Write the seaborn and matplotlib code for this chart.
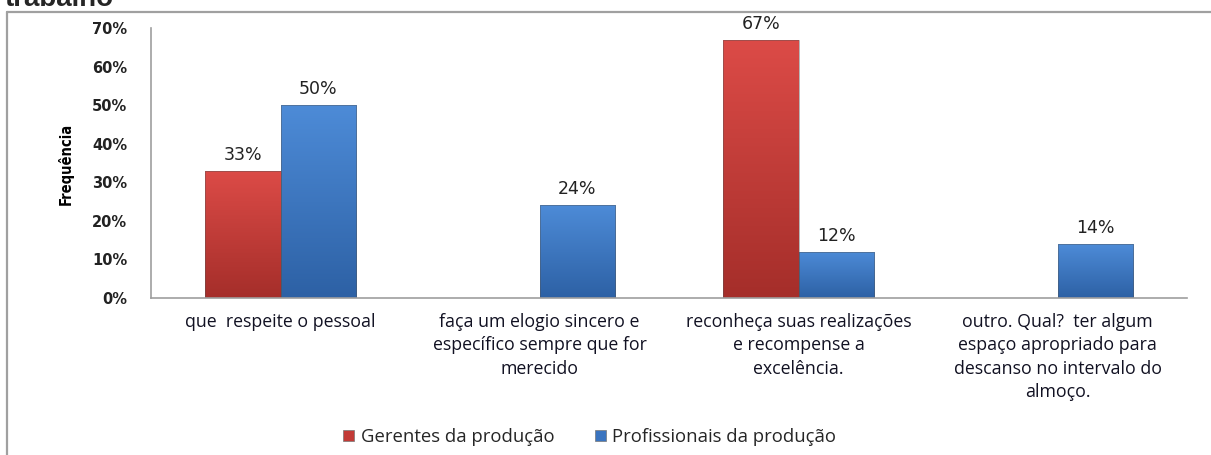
import numpy as np
import pandas as pd
import seaborn as sns
import matplotlib.pyplot as plt
from matplotlib.lines import Line2D
from matplotlib.patches import Rectangle
from matplotlib.colors import LinearSegmentedColormap

# dados do grafico
categorias = ['que  respeite o pessoal',
              'faça um elogio sincero e\nespecífico sempre que for\nmerecido',
              'reconheça suas realizações\ne recompense a\nexcelência.',
              'outro. Qual?  ter algum\nespaço apropriado para\ndescanso no intervalo do\nalmoço.']
grupos = ['Gerentes da produção', 'Profissionais da produção']
gerentes = [0.33, 0.0, 0.67, 0.0]
profissionais = [0.50, 0.24, 0.12, 0.14]
y_ticks = [0.0, 0.1, 0.2, 0.3, 0.4, 0.5, 0.6, 0.7]

cores = {'Gerentes da produção': '#C23A36', 'Profissionais da produção': '#3A74BF'}
gradientes = {'Gerentes da produção': ('#DC4B47', '#A52E2A'),
              'Profissionais da produção': ('#4D8BD7', '#2D61A5')}

df = pd.DataFrame({
    'categoria': categorias * 2,
    'grupo': [grupos[0]] * 4 + [grupos[1]] * 4,
    'valor': gerentes + profissionais,
})

sns.set_style('white')
plt.rcParams['font.family'] = ['DejaVu Sans']

fig = plt.figure(figsize=(12.11, 4.55), dpi=100)
ax = fig.add_axes([151 / 1211, 1 - 298 / 455, (1187 - 151) / 1211, (298 - 28) / 455])

sns.barplot(data=df, x='categoria', y='valor', hue='grupo', order=categorias,
            hue_order=grupos, palette=cores, width=0.58, gap=0, ax=ax,
            edgecolor='none', legend=False, errorbar=None)

ax.set_xlim(-0.5, 3.5)
ax.set_ylim(0, 0.7)

# gradiente nas barras + rotulos
for cont, grupo in zip(ax.containers, grupos):
    cmap = LinearSegmentedColormap.from_list(grupo, [gradientes[grupo][1], gradientes[grupo][0]])
    for bar in cont:
        h = bar.get_height()
        if h <= 0:
            bar.set_visible(False)
            continue
        x0, w = bar.get_x(), bar.get_width()
        grad = np.linspace(0, 1, 100).reshape(-1, 1)
        im = ax.imshow(grad, extent=[x0, x0 + w, 0, h], origin='lower', cmap=cmap,
                       aspect='auto', zorder=bar.get_zorder() + 0.1)
        im.set_clip_path(bar)
        ax.add_patch(Rectangle((x0, 0), w, h, fill=False, edgecolor='#555555',
                               linewidth=0.6, alpha=0.5, zorder=bar.get_zorder() + 0.2))
        ax.annotate(f'{h:.0%}', (x0 + w / 2, h), xytext=(0, 5), textcoords='offset points',
                    ha='center', va='bottom', fontsize=12.5, color='#222222')

ax.set_xlim(-0.5, 3.5)
ax.set_ylim(0, 0.7)

ax.set_yticks(y_ticks)
ax.set_yticklabels([f'{t:.0%}' for t in y_ticks], fontsize=10.5, fontweight='bold', color='#222222')
ax.tick_params(axis='y', length=0, pad=17)
ax.tick_params(axis='x', length=0, pad=11)
ax.set_xticks(range(4))
ax.set_xticklabels(categorias, fontsize=12.8, color='#111122', linespacing=1.37,
                   family=['Open Sans', 'DejaVu Sans'])
ax.set_xlabel('')
ax.set_ylabel('')

for s in ['top', 'right']:
    ax.spines[s].set_visible(False)
for s in ['left', 'bottom']:
    ax.spines[s].set_color('#9E9E9E')
    ax.spines[s].set_linewidth(1.2)

fig.text(66 / 1211, 1 - 164 / 455, 'Frequência', rotation=90, ha='center', va='center',
         fontsize=10.5, fontweight='bold', fontstretch='condensed', color='black')

# legenda
handles = [Rectangle((0, 0), 1, 1, facecolor=cores[g], edgecolor='#777777', linewidth=0.5) for g in grupos]
fig.legend(handles, grupos, loc='center', bbox_to_anchor=(0.487, 1 - 437 / 455), ncol=2,
           frameon=False, handlelength=0.6, handleheight=0.6, handletextpad=0.35,
           columnspacing=2.2, prop={'family': ['Open Sans', 'DejaVu Sans'], 'size': 13.3})

# moldura do grafico (recortada) e titulo cortado
fig.add_artist(Line2D([6.5 / 1211, 6.5 / 1211], [1 - 11.5 / 455, 0], color='#A0A0A0', lw=1.6))
fig.add_artist(Line2D([6.5 / 1211, 1], [1 - 11.5 / 455, 1 - 11.5 / 455], color='#A0A0A0', lw=1.6))
fig.text(5 / 1211, 1 - 6 / 455, 'trabalho', ha='left', va='baseline', fontsize=20,
         fontweight='bold', family=['Liberation Sans', 'DejaVu Sans'])

fig.savefig('out.png', dpi=100)
